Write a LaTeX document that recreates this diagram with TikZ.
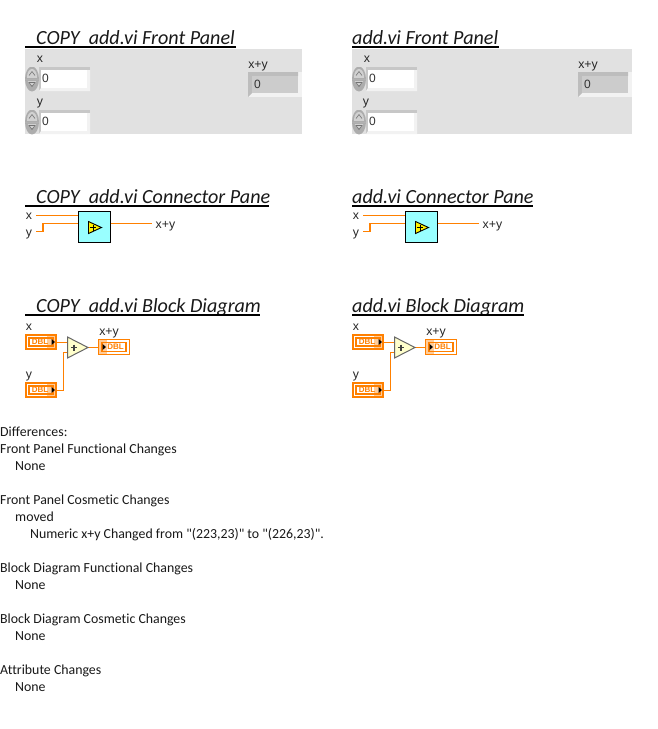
\documentclass[tikz,border=0pt]{standalone}
\usepackage{fontspec}
\setmainfont{Carlito}[Ligatures={TeXOff,NoCommon}]
\newfontfamily\lblfont{Liberation Sans}
\usetikzlibrary{calc}
\definecolor{wireor}{HTML}{FF8000}
\definecolor{termor}{HTML}{FF8000}
\definecolor{panelbg}{HTML}{E1E1E1}
\definecolor{iconcy}{HTML}{99FFFF}
\definecolor{addfill}{HTML}{FFFFCC}
\tikzset{
  titletext/.style={anchor=base west,inner sep=0pt,font=\fontsize{20.1}{20}\selectfont\itshape,text=black!90},
  rulebar/.style={line width=2pt,black},
  lbl/.style={anchor=base,inner sep=0pt,font=\lblfont\fontsize{12.3}{12}\selectfont,text=black!85},
  body/.style={anchor=base west,inner sep=0pt,font=\fontsize{13.85}{14}\selectfont,text=black!90},
  wire/.style={draw=wireor,line width=1.4pt},
  numval/.style={anchor=base west,inner sep=0pt,font=\lblfont\fontsize{12}{12}\selectfont,text=black!80},
  dbltext/.style={inner sep=0pt,font=\lblfont\fontsize{8}{8}\selectfont\bfseries,text=termor},
}
% numeric control: name, x, y(top)
\newcommand{\numctl}[3]{%
  \fill[black!22] (#2+14,#3) rectangle ++(51,24);
  \fill[black!5] (#2+16,#3+3) -- (#2+65,#3+3) -- (#2+65,#3+24) -- (#2+14,#3+24) -- (#2+16,#3+21) -- (#2+62,#3+21) -- (#2+62,#3+3) -- cycle;
  \node[fill=white,minimum width=46pt,minimum height=18pt,inner sep=0pt,anchor=north west] (#1box) at (#2+16,#3+3) {};
  \begin{scope}
    \clip (#2,#3) rectangle (#2+14,#3+24);
    \fill[black!32] (#2+7,#3+12) ellipse [x radius=7,y radius=12.5];
    \fill[black!18] (#2+7,#3+10) ellipse [x radius=5,y radius=8];
    \fill[black!32] (#2,#3+11.3) rectangle (#2+14,#3+14);
    \draw[white!70!black,line width=.8pt] (#2,#3+12.3) -- (#2+14,#3+12.3);
  \end{scope}
  \draw[black!55,line width=.6pt] (#2+4,#3+8.5) -- (#2+7,#3+4.5) -- (#2+10,#3+8.5);
  \draw[black!55,line width=.6pt] (#2+4,#3+15.5) -- (#2+10,#3+15.5) -- (#2+7,#3+19.5) -- cycle;
  \node[numval] (#1val) at (#2+17,#3+15.5) {0};
}
% numeric indicator: name, x, y
\newcommand{\numind}[3]{%
  \fill[black!5] (#2,#3) rectangle ++(54,25);
  \fill[black!26] (#2,#3) -- (#2+50,#3) -- (#2+50,#3+4) -- (#2+4,#3+4) -- (#2+4,#3+21) -- (#2,#3+25) -- cycle;
  \node[fill=black!20,minimum width=46pt,minimum height=17pt,inner sep=0pt,anchor=north west] (#1box) at (#2+4,#3+4) {};
  \node[numval] (#1val) at (#2+6,#3+16.5) {0};
}
% connector pane: name, dx
\newcommand{\cpane}[2]{%
  \node[lbl] (#1xl) at (#2+29,219.5) {x};
  \node[lbl] (#1yl) at (#2+29,236) {y};
  \node[draw=black,line width=.9pt,fill=iconcy,minimum width=31.5pt,minimum height=31pt,inner sep=0pt,anchor=north west] (#1icon) at (#2+78.3,211.3) {};
  \coordinate (#1xs) at (#2+36,215.5);
  \coordinate (#1ys) at (#2+36,231.5);
  \coordinate (#1ye) at (#1icon.west |- 0,223.5);
  \coordinate (#1xe) at (#1icon.west |- 0,215.5);
  \coordinate (#1os) at (#1icon.east |- 0,223.5);
  \coordinate (#1oe) at (#2+152,223.5);
  \draw[wire] (#1xs) -- (#1xe);
  \draw[wire] (#1ys) -- ++(7,0) |- (#1ye);
  \draw[wire] (#1os) -- (#1oe);
  \node[lbl,anchor=base west] (#1ol) at (#2+155.5,228.5) {x+y};
  \draw[black,line width=.9pt,fill=yellow] (#2+88.5,221.5) -- (#2+101.5,227.5) -- (#2+88.5,233.5) -- cycle;
  \draw[black,line width=1pt] (#2+90,227.5) -- (#2+96,227.5) (#2+93,224.5) -- (#2+93,230.5);
}
% DBL control: name, x, y top
\newcommand{\dblctl}[3]{%
  \node[fill=termor,minimum width=32pt,minimum height=16pt,inner sep=0pt,anchor=north west] (#1) at (#2,#3) {};
  \fill[white] (#2+2,#3+2) rectangle (#2+30,#3+14);
  \fill[termor!40] (#2+22,#3+2) rectangle (#2+30,#3+14);
  \draw[termor,line width=1.1pt] (#2+4,#3+4) rectangle (#2+28,#3+12);
  \node[dbltext] at (#2+15,#3+8.2) {DBL};
  \fill[black] (#2+26.5,#3+5) -- (#2+30,#3+8) -- (#2+26.5,#3+11) -- cycle;
}
% DBL indicator: name, x, y top
\newcommand{\dblind}[3]{%
  \node[fill=white,minimum width=32pt,minimum height=16pt,inner sep=0pt,anchor=north west] (#1) at (#2,#3) {};
  \fill[termor!40] (#2+1,#3+1) rectangle (#2+9,#3+15);
  \draw[termor,line width=1.5pt] (#2+.7,#3+.7) rectangle (#2+31.3,#3+15.3);
  \draw[termor,line width=1.1pt] (#2+4,#3+3.5) rectangle (#2+28,#3+12.5);
  \node[dbltext] at (#2+17.5,#3+8) {DBL};
  \fill[black] (#2+4.5,#3+5) -- (#2+8,#3+8) -- (#2+4.5,#3+11) -- cycle;
}
% block diagram: name, dx
\newcommand{\bdiag}[2]{%
  \node[lbl] (#1xl) at (#2+29,330) {x};
  \node[lbl] (#1yl) at (#2+29,378.5) {y};
  \node[lbl] (#1ol) at (#2+109,335.5) {x+y};
  \dblctl{#1cx}{#2+25}{334}
  \dblctl{#1cy}{#2+25}{382}
  \dblind{#1ci}{#2+98}{339}
  \coordinate (#1a1) at (#2+67.5,342.5);
  \coordinate (#1a2) at (#2+67.5,352.5);
  \coordinate (#1ao) at (#2+88,347.5);
  \draw[wire] (#1cx.east |- #1a1) -- (#1a1);
  \draw[wire] (#1cy.east |- 0,390.5) -- (#2+63.5,390.5) |- (#1a2);
  \draw[wire] (#1ao) -- (#1ci.west |- #1ao);
  \draw[black!60,line width=1pt,fill=addfill] (#2+67.5,337) -- (#1ao) -- (#2+67.5,358) -- cycle;
  \draw[black!75,line width=1.1pt] (#2+71,347.5) -- (#2+77,347.5) (#2+74,344.5) -- (#2+74,350.5);
}
\begin{document}
\begin{tikzpicture}[x=1pt,y=-1pt]
\useasboundingbox (0,0) rectangle (657,729);
\fill[white] (0,0) rectangle (657,729);
% titles
\node[titletext] (t1) at (36,44) {COPY\ \ add.vi Front Panel};
\draw[rulebar] (25,46.5) -- (235.5,46.5);
\node[titletext] (t2) at (352,44) {add.vi Front Panel};
\draw[rulebar] (352,46.5) -- (499,46.5);
\node[titletext] (t3) at (36,203) {COPY\ \ add.vi Connector Pane};
\draw[rulebar] (25,206) -- (268.5,206);
\node[titletext] (t4) at (352,203) {add.vi Connector Pane};
\draw[rulebar] (352,206) -- (533,206);
\node[titletext] (t5) at (36,312) {COPY\ \ add.vi Block Diagram};
\draw[rulebar] (25,315) -- (260,315);
\node[titletext] (t6) at (352,312) {add.vi Block Diagram};
\draw[rulebar] (352,315) -- (524,315);
% front panels
\fill[panelbg] (25,49) rectangle (302,134);
\fill[panelbg] (352,49) rectangle (632,134);
\numctl{ax}{25}{67}
\numctl{ay}{25}{110}
\numind{ai}{248}{72}
\node[lbl] (axl) at (40,62) {x};
\node[lbl] (ayl) at (40,105.5) {y};
\node[lbl] (ail) at (258,68) {x+y};
\numctl{bx}{352}{67}
\numctl{by}{352}{110}
\numind{bi}{578}{72}
\node[lbl] (bxl) at (367,62) {x};
\node[lbl] (byl) at (366,105.5) {y};
\node[lbl] (bil) at (588,68) {x+y};
% connector panes
\cpane{pa}{0}
\cpane{pb}{327}
% block diagrams
\bdiag{da}{0}
\bdiag{db}{327}
% differences text
\node[body] (l1) at (0,436) {Differences:};
\node[body] (l2) at (0,453) {Front Panel Functional Changes};
\node[body] (l3) at (15,470) {None};
\node[body] (l4) at (0,504) {Front Panel Cosmetic Changes};
\node[body] (l5) at (15,521) {moved};
\node[body] (l6) at (30,538) {Numeric x+y Changed from "(223,23)" to "(226,23)".};
\node[body] (l7) at (0,572) {Block Diagram Functional Changes};
\node[body] (l8) at (15,589) {None};
\node[body] (l9) at (0,623) {Block Diagram Cosmetic Changes};
\node[body] (l10) at (15,640) {None};
\node[body] (l11) at (0,674) {Attribute Changes};
\node[body] (l12) at (15,691) {None};
\end{tikzpicture}
\end{document}
